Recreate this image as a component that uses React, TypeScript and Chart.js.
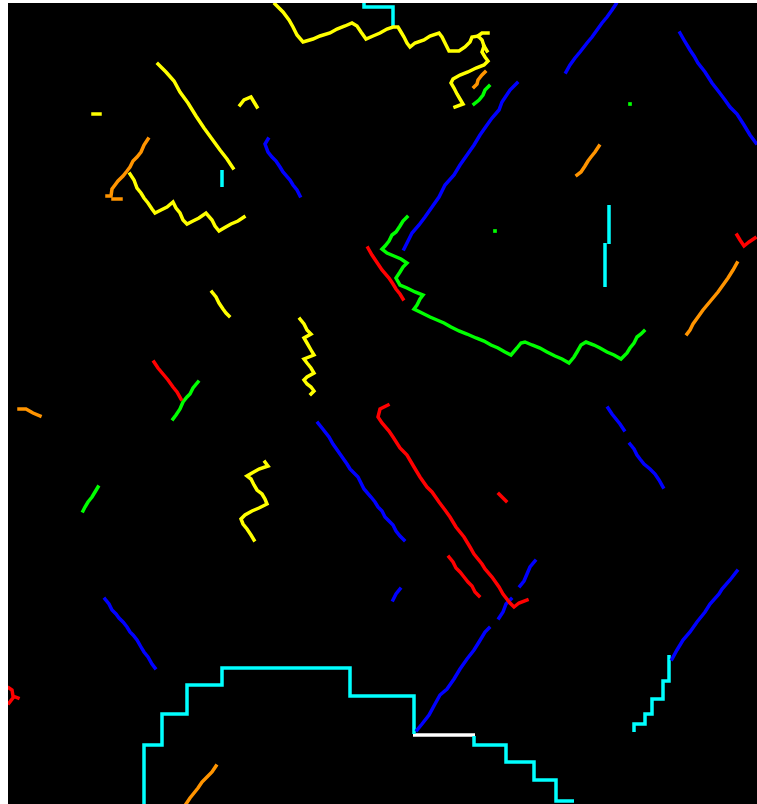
import React, { useEffect, useRef } from "react";
import { Chart, registerables } from "chart.js";

Chart.register(...registerables);

type P = [number, number];

// ---- yellow traces ----
const yellowTop: P[] = [[275,4],[283,12],[289,20],[293,27],[297,35],[303,42],[313,39],[320,36],[330,33],[337,29],[345,26],[352,23],[357,26],[361,32],[366,39],[373,36],[380,33],[387,29],[393,27],[398,27],[401,32],[404,37],[407,43],[410,47],[415,43],[424,40],[430,36],[439,33],[442,37],[446,45],[449,51],[459,51],[465,47],[470,42],[472,37],[478,36],[482,40],[484,46],[482,52],[485,57],[488,61],[484,65],[476,68],[468,72],[460,75],[453,79],[451,83],[454,88],[457,94],[460,99],[463,104],[455,107]];
const yellowLoop: P[] = [[478,36],[482,33],[488,33]];
const yellowBranch: P[] = [[484,46],[487,51]];
const yellowDiag: P[] = [[158,64],[166,72],[174,81],[180,92],[188,103],[196,116],[204,128],[212,139],[220,150],[227,159],[233,168]];
const yellowArch: P[] = [[240,105],[244,100],[251,97],[254,102],[257,107]];
const yellowDash: P[] = [[93,114],[100,114]];
const yellowZig: P[] = [[130,174],[134,180],[137,188],[141,193],[144,198],[148,203],[152,209],[155,213],[161,210],[167,207],[173,202],[176,208],[180,213],[183,220],[187,224],[193,221],[199,218],[206,213],[212,220],[215,226],[219,231],[224,228],[231,224],[238,221],[244,217]];
const yellowShort: P[] = [[212,292],[216,297],[219,303],[223,309],[226,313],[229,316]];
const yellowVert: P[] = [[300,319],[304,324],[307,330],[311,334],[304,338],[307,343],[311,350],[314,355],[304,359],[307,363],[311,368],[314,373],[307,377],[304,380],[307,384],[311,387],[314,391],[311,394]];
const yellowS: P[] = [[265,462],[268,466],[259,469],[252,473],[247,476],[251,479],[254,485],[257,490],[262,494],[265,499],[267,504],[259,508],[252,511],[245,515],[241,519],[243,524],[247,529],[251,535],[254,540]];

// ---- orange traces ----
const orangeL: P[] = [[148,139],[144,145],[141,152],[137,157],[133,161],[130,167],[127,171],[123,176],[118,181],[115,185],[112,189],[111,196],[107,196]];
const orangeFoot: P[] = [[113,199],[121,199]];
const orangeSmall: P[] = [[485,72],[482,75],[478,80],[477,84],[474,87]];
const orangeMid: P[] = [[599,146],[595,152],[591,157],[588,161],[585,166],[581,172],[577,175]];
const orangeRight: P[] = [[737,263],[733,270],[728,278],[723,285],[718,292],[713,298],[708,304],[703,310],[698,317],[693,324],[690,330],[687,334]];
const orangeLeft: P[] = [[19,409],[26,409],[33,413],[40,416]];
const orangeBottom: P[] = [[216,766],[212,772],[207,777],[202,782],[198,788],[194,793],[190,798],[186,804]];

// ---- red traces ----
const redMid: P[] = [[368,248],[372,255],[376,261],[382,270],[389,278],[393,284],[396,289],[400,294],[403,299]];
const redLeft: P[] = [[154,362],[158,368],[163,374],[168,380],[173,387],[177,392],[181,399]];
const redFarLeft: P[] = [[9,688],[12,690],[13,696],[18,698]];
const redFarLeft2: P[] = [[13,698],[9,703]];
const redRight: P[] = [[737,235],[740,240],[744,246],[749,242],[755,238]];
const redLong: P[] = [[388,405],[380,409],[378,417],[382,423],[389,431],[393,437],[400,448],[407,455],[414,467],[420,477],[427,487],[432,492],[439,502],[445,510],[450,517],[456,527],[464,537],[470,547],[474,554],[482,564],[485,569],[492,577],[499,587],[503,594],[510,603],[514,607],[519,603],[527,600]];
const redSecond: P[] = [[449,557],[453,562],[456,568],[460,572],[464,577],[468,582],[472,586],[475,592],[479,596]];
const redSmall: P[] = [[499,494],[503,498],[506,501]];

// ---- green traces ----
const greenBig: P[] = [[407,217],[403,221],[400,226],[396,232],[392,235],[389,241],[385,246],[382,249],[387,253],[394,256],[401,259],[407,263],[403,267],[400,272],[396,278],[400,285],[407,288],[415,292],[423,295],[420,299],[417,305],[414,309],[422,313],[430,317],[437,320],[444,323],[451,327],[459,331],[467,334],[476,338],[484,341],[491,345],[498,348],[505,352],[511,355],[517,348],[521,343],[525,342],[532,345],[540,348],[547,352],[555,356],[562,359],[569,363],[574,357],[577,352],[581,345],[586,342],[594,345],[600,348],[607,352],[614,355],[621,359],[627,353],[630,348],[634,343],[637,337],[641,334],[644,331]];
const greenSmall: P[] = [[489,86],[485,90],[483,95],[479,100],[474,104]];
const greenLeft: P[] = [[198,382],[193,388],[190,394],[187,397],[183,402],[180,409],[176,415],[173,419]];
const greenFar: P[] = [[98,487],[95,492],[92,497],[88,502],[85,507],[83,511]];
const greenDots: P[] = [[630,104],[495,231]];

// ---- blue traces ----
const blueSmall: P[] = [[268,139],[265,144],[268,152],[272,157],[276,161],[280,167],[283,172],[290,180],[293,185],[297,190],[300,196]];
const blueLong: P[] = [[517,83],[510,90],[502,102],[499,110],[492,118],[487,125],[480,135],[474,145],[467,155],[460,165],[454,175],[445,185],[439,197],[432,207],[425,217],[419,225],[412,233],[406,245],[404,249]];
const blueTop: P[] = [[616,4],[612,10],[607,17],[602,23],[597,30],[592,37],[587,43],[580,52],[575,58],[570,65],[566,72]];
const blueTopRight: P[] = [[680,33],[684,40],[690,50],[694,56],[698,63],[705,72],[712,83],[719,92],[725,100],[730,107],[737,114],[744,125],[750,135],[756,143]];
const blueMidLeft: P[] = [[318,423],[322,428],[329,437],[333,444],[340,454],[347,464],[350,469],[358,477],[364,489],[371,497],[375,502],[378,507],[382,511],[385,517],[389,521],[393,525],[396,531],[400,536],[404,540]];
const blueRight1: P[] = [[608,408],[612,414],[616,419],[620,424],[624,430]];
const blueRight2: P[] = [[630,444],[634,449],[637,455],[640,459],[644,464],[650,469],[655,474],[659,480],[663,487]];
const blueBL: P[] = [[105,599],[109,604],[112,610],[116,614],[119,618],[123,622],[127,627],[130,632],[133,635],[137,640],[141,647],[144,652],[148,657],[152,664],[155,668]];
const blueSmall2: P[] = [[400,589],[396,594],[393,600]];
const blueBot1: P[] = [[535,561],[530,567],[527,574],[524,581],[520,586]];
const blueBot2: P[] = [[511,599],[506,604],[503,612],[499,618]];
const blueBot3: P[] = [[489,628],[485,632],[479,642],[474,650],[467,659],[460,669],[454,679],[447,689],[440,695],[435,704],[429,715],[422,724],[417,730]];
const blueBR: P[] = [[737,571],[730,580],[722,589],[719,594],[710,604],[705,612],[697,622],[690,632],[683,640],[677,650],[672,659]];

// ---- cyan / white outlines ----
const cyanTop: P[] = [[364,3],[364,7],[393,7],[393,27]];
const cyanShort: P[] = [[222,170],[222,187]];
const cyanRightA: P[] = [[609,205],[609,244]];
const cyanRightB: P[] = [[605,243],[605,287]];
const cyanStairs: P[] = [[144,806],[144,745],[162,745],[162,714],[187,714],[187,685],[222,685],[222,668],[350,668],[350,696],[414,696],[414,734]];
const whiteEdge: P[] = [[413,735],[475,735]];
const cyanStairs2: P[] = [[474,736],[474,745],[506,745],[506,762],[534,762],[534,780],[556,780],[556,801],[574,801]];
const cyanStairsR: P[] = [[669,655],[669,681],[663,681],[663,699],[652,699],[652,714],[645,714],[645,724],[634,724],[634,732]];

const YELLOW = "#ffff00";
const ORANGE = "#ff9400";
const RED = "#ff0000";
const GREEN = "#00ff00";
const BLUE = "#0000ff";
const CYAN = "#00ffff";
const WHITE = "#ffffff";

const traces: [P[], string][] = [
  [yellowTop, YELLOW], [yellowLoop, YELLOW], [yellowBranch, YELLOW], [yellowDiag, YELLOW], [yellowArch, YELLOW],
  [yellowDash, YELLOW], [yellowZig, YELLOW], [yellowShort, YELLOW], [yellowVert, YELLOW], [yellowS, YELLOW],
  [orangeL, ORANGE], [orangeFoot, ORANGE], [orangeSmall, ORANGE], [orangeMid, ORANGE], [orangeRight, ORANGE],
  [orangeLeft, ORANGE], [orangeBottom, ORANGE],
  [redMid, RED], [redLeft, RED], [redFarLeft, RED], [redFarLeft2, RED], [redRight, RED], [redLong, RED],
  [redSecond, RED], [redSmall, RED],
  [greenBig, GREEN], [greenSmall, GREEN], [greenLeft, GREEN], [greenFar, GREEN],
  [blueSmall, BLUE], [blueLong, BLUE], [blueTop, BLUE], [blueTopRight, BLUE], [blueMidLeft, BLUE],
  [blueRight1, BLUE], [blueRight2, BLUE], [blueBL, BLUE], [blueSmall2, BLUE], [blueBot1, BLUE],
  [blueBot2, BLUE], [blueBot3, BLUE], [blueBR, BLUE],
];

const outlines: [P[], string][] = [
  [cyanTop, CYAN], [cyanShort, CYAN], [cyanRightA, CYAN], [cyanRightB, CYAN], [cyanStairs, CYAN],
  [cyanStairs2, CYAN], [cyanStairsR, CYAN], [whiteEdge, WHITE],
];

const toXY = (pts: P[]) => pts.map(([x, y]) => ({ x, y }));

export default function App() {
  const ref = useRef<HTMLCanvasElement | null>(null);

  useEffect(() => {
    if (!ref.current) return;
    const datasets: any[] = [];
    for (const [pts, color] of traces) {
      datasets.push({
        data: toXY(pts),
        showLine: true,
        borderColor: color,
        backgroundColor: color,
        borderWidth: 3.5,
        pointRadius: 0,
        borderJoinStyle: "miter",
        borderCapStyle: "square",
      });
    }
    for (const [pts, color] of outlines) {
      datasets.push({
        data: toXY(pts),
        showLine: true,
        borderColor: color,
        backgroundColor: color,
        borderWidth: 3.5,
        pointRadius: 0,
        borderJoinStyle: "miter",
        borderCapStyle: "butt",
      });
    }
    datasets.push({
      data: toXY(greenDots),
      showLine: false,
      pointStyle: "rect",
      pointRadius: 2.6,
      pointBorderWidth: 0,
      backgroundColor: GREEN,
      borderColor: GREEN,
    });

    const chart = new Chart(ref.current, {
      type: "scatter",
      data: { datasets },
      options: {
        animation: false,
        responsive: false,
        maintainAspectRatio: false,
        layout: { padding: 0, autoPadding: false },
        plugins: { legend: { display: false }, tooltip: { enabled: false } },
        events: [],
        scales: {
          x: { type: "linear", min: 8, max: 757, display: false },
          y: { type: "linear", min: 3, max: 804, reverse: true, display: false },
        },
      },
      plugins: [
        {
          id: "bg",
          beforeDraw(c: any) {
            const ctx = c.ctx;
            ctx.save();
            ctx.fillStyle = "#000000";
            ctx.fillRect(0, 0, c.width, c.height);
            ctx.restore();
          },
        },
      ],
    });
    return () => chart.destroy();
  }, []);

  return (
    <div style={{ position: "absolute", left: 8, top: 3, width: 749, height: 801 }}>
      <canvas ref={ref} width={749} height={801} style={{ display: "block", width: 749, height: 801 }} />
    </div>
  );
}
